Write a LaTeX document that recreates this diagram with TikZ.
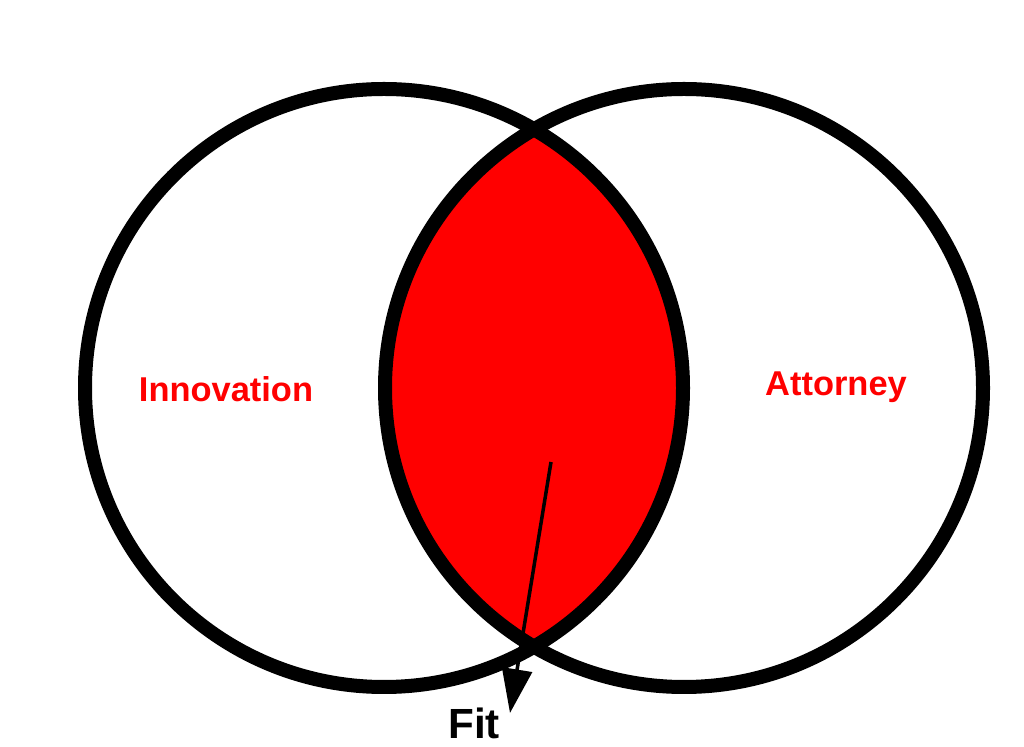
\documentclass[tikz,border=0pt]{standalone}
\usepackage{fontspec}
\setmainfont{Liberation Sans}
\usetikzlibrary{arrows.meta}

\begin{document}
\begin{tikzpicture}[
      ring/.style={draw=black, line width=0.35cm},
      lbl/.style={text=red, font=\fontsize{24.5}{28}\selectfont\bfseries},
      fitlbl/.style={text=black, font=\fontsize{30}{34}\selectfont\bfseries},
      arr/.style={-{Triangle[length=1.1cm, width=0.75cm]}, line width=2.5pt},
    ]
    \useasboundingbox (0,0) rectangle (25.6,18.675);

    \coordinate (left_c) at (9.6,8.975);
    \coordinate (right_c) at (17.1,8.975);

    % overlap
    \begin{scope}
      \clip (left_c) circle (7.475);
      \fill[red] (right_c) circle (7.475);
    \end{scope}

    \draw[ring] (left_c) circle (7.475);
    \draw[ring] (right_c) circle (7.475);

    \node[lbl] (innov) at (5.65,8.95) {Innovation};
    \node[lbl] (attor) at (20.9,9.0) {Attorney};
    \node[fitlbl] (fit) at (11.85,0.6) {Fit};

    \coordinate (tail) at (13.775,7.125);
    \coordinate (head) at (12.75,0.85);
    \draw[arr] (tail) -- (head);
  \end{tikzpicture}
\end{document}
